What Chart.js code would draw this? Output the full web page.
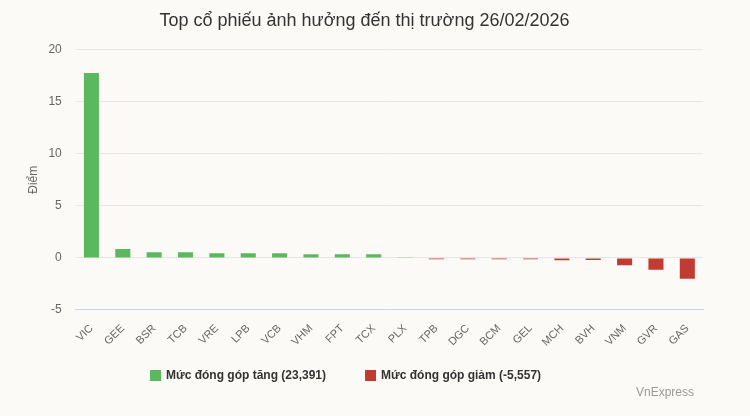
<!DOCTYPE html>
<html>
<head>
<meta charset="utf-8">
<script src="https://cdn.jsdelivr.net/npm/chart.js@4"></script>
<style>
  html, body { margin: 0; padding: 0; background: #fbfaf7; }
  #wrap { width: 750px; height: 416px; }
</style>
</head>
<body>
<div id="wrap"><canvas id="myChart"></canvas></div>
<script>
// data ---------------
const labels = ['VIC','GEE','BSR','TCB','VRE','LPB','VCB','VHM','FPT','TCX','PLX',
                'TPB','DGC','BCM','GEL','MCH','BVH','VNM','GVR','GAS'];
const tang = [17.75, 0.86, 0.55, 0.55, 0.45, 0.45, 0.45, 0.36, 0.36, 0.36, 0.02,
              null, null, null, null, null, null, null, null, null];
const giam = [null, null, null, null, null, null, null, null, null, null, null,
              -0.14, -0.14, -0.14, -0.14, -0.23, -0.2, -0.7, -1.15, -2.0];
const yTicks = [-5, 0, 5, 10, 15, 20];

const font = "'Liberation Sans', Arial, sans-serif";

// legend + credit drawn by hand so they sit where the original has them
const extras = {
  id: 'extras',
  afterDraw(chart) {
    const c = chart.ctx;
    c.save();
    c.font = 'bold 12px ' + font;
    c.textBaseline = 'middle';
    let x = 150;
    const y = 376;
    chart.data.datasets.forEach(ds => {
      c.fillStyle = ds.backgroundColor;
      c.fillRect(x, y - 6, 11, 11);
      c.fillStyle = '#333';
      c.textAlign = 'left';
      c.fillText(ds.label, x + 16, y);
      x += 16 + c.measureText(ds.label).width + 39;
    });
    c.font = '12px ' + font;
    c.fillStyle = '#999';
    c.textAlign = 'right';
    c.fillText('VnExpress', 694, 393);
    c.restore();
  }
};

const ctx = document.getElementById('myChart');
new Chart(ctx, {
  type: 'bar',
  data: {
    labels: labels,
    datasets: [{
      label: 'Mức đóng góp tăng (23,391)',
      data: tang,
      backgroundColor: '#5cb85c',
      barPercentage: 0.48,
      categoryPercentage: 1
    }, {
      label: 'Mức đóng góp giảm (-5,557)',
      data: giam,
      backgroundColor: '#c23b33',
      barPercentage: 0.48,
      categoryPercentage: 1
    }]
  },
  options: {
    responsive: true,
    maintainAspectRatio: false,
    animation: false,
    layout: { autoPadding: false, padding: { left: 26, right: 47, top: 0, bottom: 63 } },
    plugins: {
      title: {
        display: true,
        text: 'Top cổ phiếu ảnh hưởng đến thị trường 26/02/2026',
        color: '#333',
        font: { family: font, size: 18, weight: 'normal' },
        padding: { top: 10, bottom: 18 }
      },
      legend: { display: false },
      tooltip: { enabled: false }
    },
    scales: {
      x: {
        stacked: true,
        grid: { display: false },
        border: { display: true, color: '#ccd6eb' },
        ticks: {
          color: '#666',
          minRotation: 45,
          maxRotation: 45,
          padding: 4,
          font: { family: font, size: 11 }
        }
      },
      y: {
        stacked: true,
        min: -5,
        max: 20,
        afterBuildTicks(axis) { axis.ticks = yTicks.map(v => ({ value: v })); },
        grid: {
          color: c => (c.tick && c.tick.value === -5 ? '#ccd6eb' : '#e6e6e6'),
          tickColor: 'rgba(0,0,0,0)',
          tickLength: 8
        },
        border: { display: false },
        ticks: {
          color: '#666',
          padding: 6,
          font: { family: font, size: 12 }
        },
        title: {
          display: true,
          text: 'Điểm',
          color: '#666',
          font: { family: font, size: 12 },
          padding: { top: 0, bottom: 2 }
        }
      }
    }
  },
  plugins: [extras]
});
</script>
</body>
</html>
